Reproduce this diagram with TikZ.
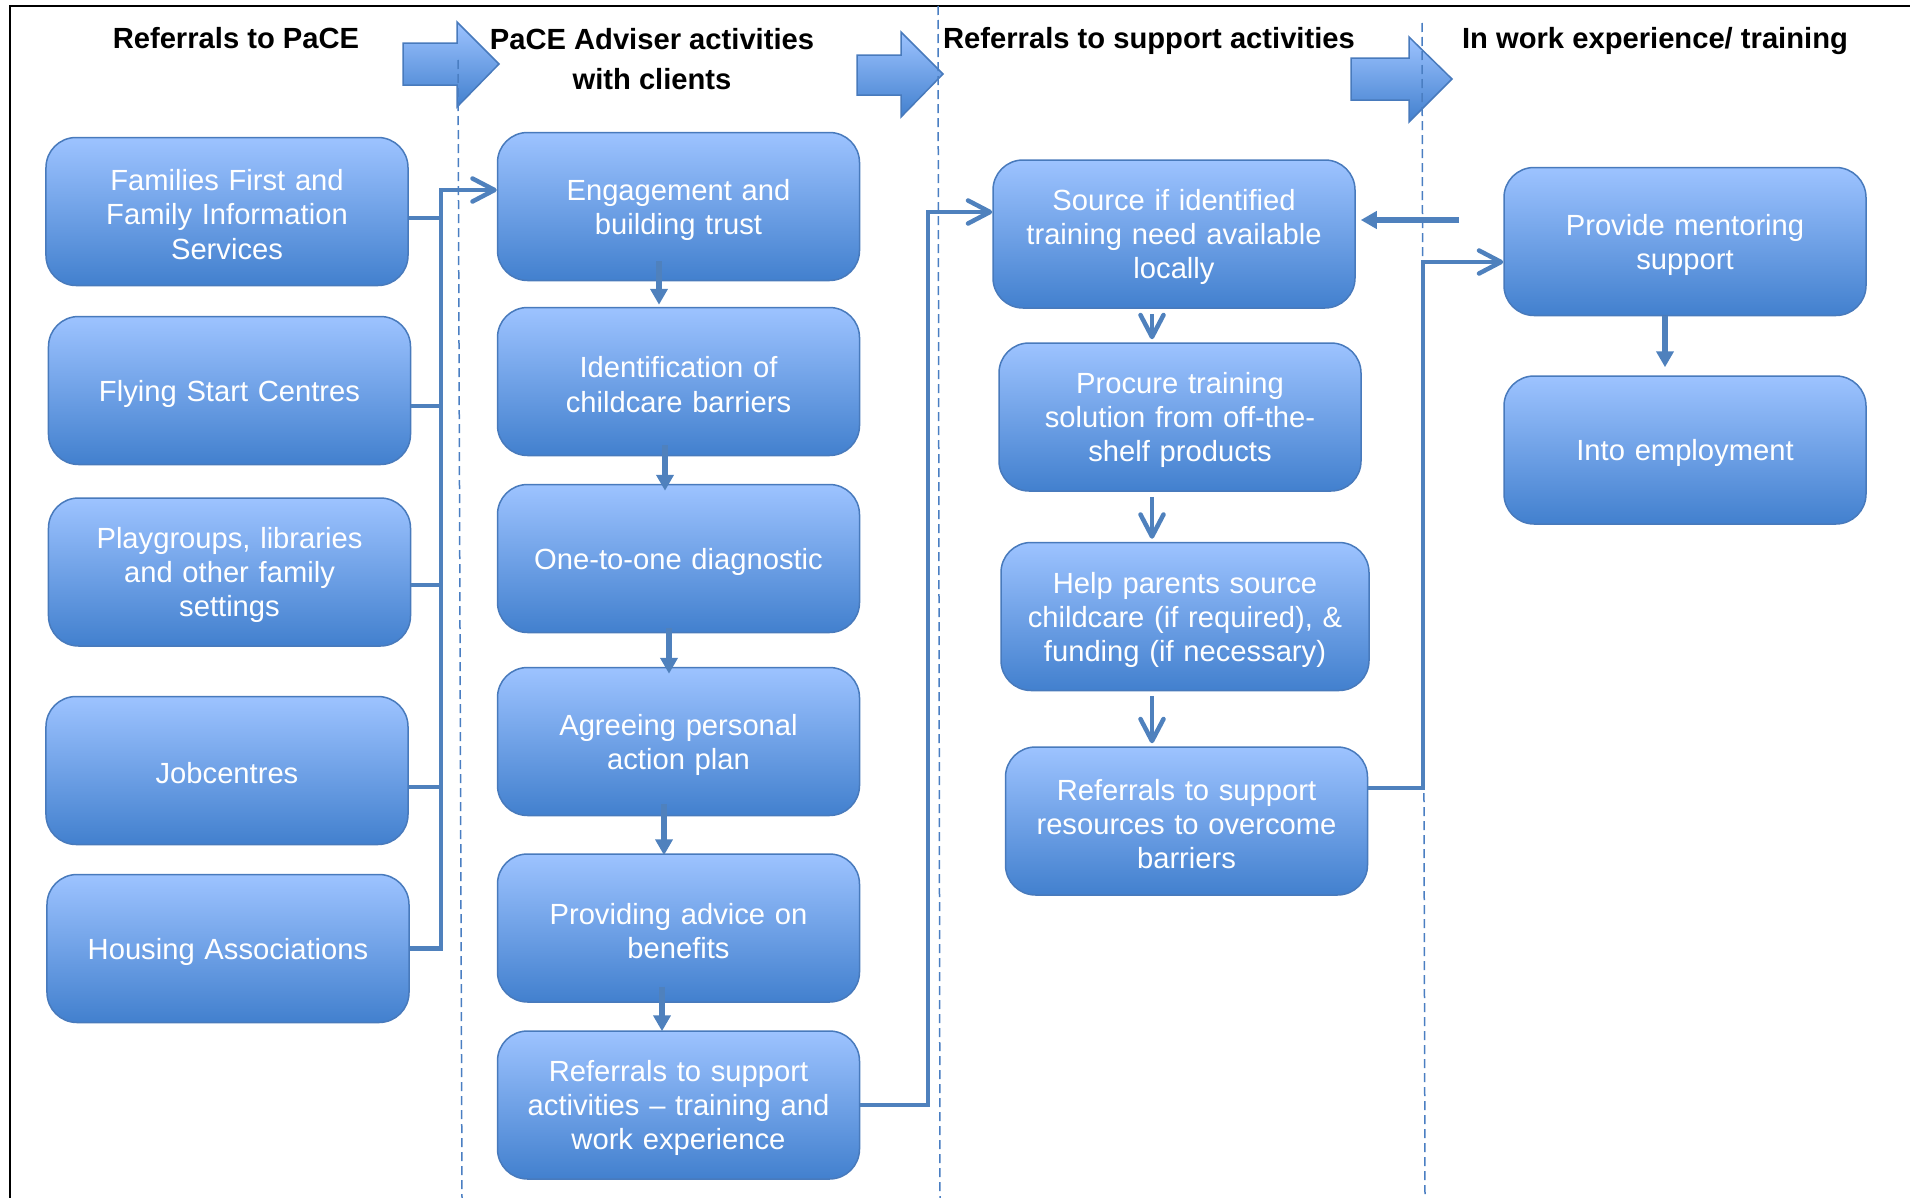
\documentclass[tikz,border=0pt]{standalone}
\usepackage{fontspec}
\setmainfont{Liberation Sans}
\usetikzlibrary{arrows.meta}
\definecolor{boxtop}{RGB}{157,195,255}
\definecolor{boxbot}{RGB}{66,128,206}
\definecolor{boxline}{RGB}{72,122,188}
\definecolor{linkblue}{RGB}{79,129,189}
\definecolor{dashblue}{RGB}{74,126,194}
\tikzset{
  box/.style={
    rectangle,
    rounded corners=6mm,
    minimum width=72.4mm,
    minimum height=29.6mm,
    inner sep=0mm,
    top color=boxtop,
    bottom color=boxbot,
    draw=boxline,
    line width=0.3mm,
    text=white,
    text width=68mm,
    align=center,
    font=\fontsize{16.6}{19.4}\selectfont,
    execute at begin node={\noindent\rule{0pt}{15.5pt}}
  },
  head/.style={
    anchor=base,
    inner sep=0mm,
    align=center,
    font=\fontsize{16.6}{22.2}\selectfont\bfseries
  },
  bigarrow/.style={
    draw=boxline,
    line width=0.3mm,
    top color=boxtop,
    bottom color=boxbot
  },
  divider/.style={
    draw=dashblue,
    line width=0.3mm,
    dash pattern=on 1.8mm off 1mm
  },
  link/.style={
    draw=linkblue,
    line width=0.9mm,
    ->
  },
  flow/.style={
    draw=linkblue,
    line width=1.1mm,
    -{Triangle[length=3.2mm,width=3.4mm]}
  },
  frame/.style={
    draw=black,
    line width=0.5mm
  }
}

\begin{document}
\begin{tikzpicture}[x=0.2mm,y=-0.2mm,>={Straight Barb[length=4.4mm,width=4.6mm,round]}]
    \useasboundingbox (0,0) rectangle (1910,1198);
    \draw[frame] (10,1198) -- (10,6) -- (1910,6);

    \path[bigarrow] (403,43) -- (457,43) -- (457,22) -- (499,64) -- (457,107) -- (457,85) -- (403,85) -- cycle;
    \path[bigarrow] (857,55) -- (901,55) -- (901,32) -- (943,74) -- (901,117) -- (901,95) -- (857,95) -- cycle;
    \path[bigarrow] (1351,58) -- (1409,58) -- (1409,37) -- (1452,79) -- (1409,122) -- (1409,100) -- (1351,100) -- cycle;

    \node[head] (h1) at (236,49) {Referrals to PaCE};
    \node[head] (h2) at (652,89) {PaCE Adviser activities\\with clients};
    \node[head] (h3) at (1149,49) {Referrals to support activities};
    \node[head] (h4) at (1655,49) {In work experience/ training};

    \node[box] (b1) at (227,211.5) {Families First and\\Family Information\\Services};
    \node[box] (b2) at (229.5,390.5) {Flying Start Centres};
    \node[box] (b3) at (229.5,572) {Playgroups, libraries\\and other family\\settings};
    \node[box] (b4) at (227,770.5) {Jobcentres};
    \node[box] (b5) at (228,948.5) {Housing Associations};

    \node[box] (c1) at (678.5,206.5) {Engagement and\\building trust};
    \node[box] (c2) at (678.5,381.5) {Identification of\\childcare barriers};
    \node[box] (c3) at (678.5,558.5) {One-to-one diagnostic};
    \node[box] (c4) at (678.5,741.5) {Agreeing personal\\action plan};
    \node[box] (c5) at (678.5,928) {Providing advice on\\benefits};
    \node[box] (c6) at (678.5,1105) {Referrals to support\\activities -- training and\\work experience};

    \node[box] (d1) at (1174,234) {Source if identified\\training need available\\locally};
    \node[box] (d2) at (1180,417) {Procure training\\solution from off-the-\\shelf products};
    \node[box,minimum width=73.6mm] (d3) at (1185,616.5) {Help parents source\\childcare (if required), \&\\funding (if necessary)};
    \node[box] (d4) at (1186.5,821) {Referrals to support\\resources to overcome\\barriers};

    \node[box] (e1) at (1685,241.5) {Provide mentoring\\support};
    \node[box] (e2) at (1685,450) {Into employment};

    \draw[divider] (458,60) -- (462,1198);
    \draw[divider] (938,6) -- (940,1198);
    \draw[divider] (1422,23) -- (1425,1198);

    \coordinate (bus) at (441,190);
    \draw[link] (b5.east) -| (bus) -- (c1.west |- bus);
    \foreach \n/\s in {b1/-1.3,b2/-3.1,b3/-2.6,b4/-3.3}
        \draw[link,-] ([yshift=\s mm]\n.east) -| (bus);

    \foreach \a/\b/\dx/\up/\dn in {c1/c2/-3.9/4/0.4,c2/c3/-2.7/2.2/-1.4,c3/c4/-1.9/1/-1.4,c4/c5/-2.9/2.4/-0.4,c5/c6/-3.3/3.2/-0.2}
        \draw[flow] ([xshift=\dx mm,yshift=\up mm]\a.south) -- ([xshift=\dx mm,yshift=\dn mm]\b.north);

    \coordinate (jog1) at (928,212);
    \draw[link] (c6.east) -| (jog1) -- (d1.west |- jog1);

    \coordinate (dcol) at (1152,0);
    \foreach \a/\b in {d1/d2,d2/d3,d3/d4}
        \draw[link,shorten <=1mm,shorten >=0.6mm] (\a.south -| dcol) -- (\b.north -| dcol);

    \coordinate (jog2) at (1423,262);
    \draw[link] ([yshift=6.6mm]d4.east) -| (jog2) -- (e1.west |- jog2);

    \coordinate (back) at (1459,220);
    \draw[flow,shorten >=1mm] (back) -- (d1.east |- back);

    \draw[flow,shorten >=1.6mm] ([xshift=-4mm]e1.south) -- ([xshift=-4mm]e2.north);
\end{tikzpicture}
\end{document}
